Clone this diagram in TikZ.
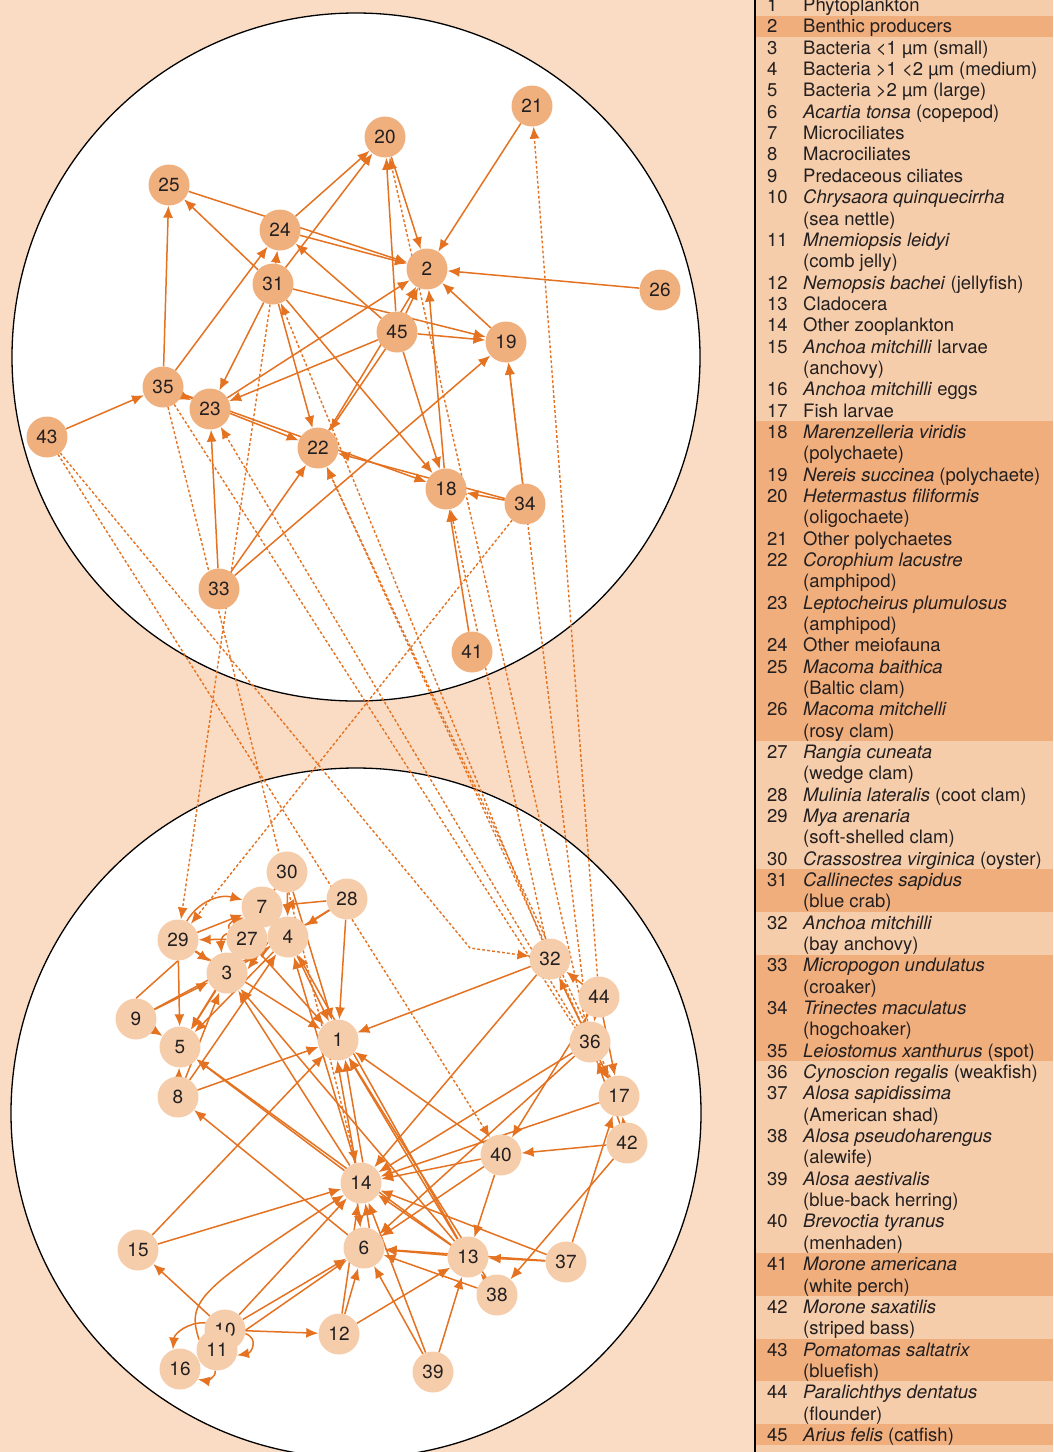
\documentclass[tikz,border=0pt]{standalone}
\usepackage{fontspec}
\setmainfont{TeX Gyre Heros}
\usetikzlibrary{arrows.meta}
\definecolor{paleBg}{RGB}{250,220,196}
\definecolor{legLight}{RGB}{246,205,170}
\definecolor{legDark}{RGB}{240,174,124}
\definecolor{upFill}{RGB}{240,176,126}
\definecolor{lowFill}{RGB}{246,205,170}
\definecolor{linkOrange}{RGB}{228,114,32}
\definecolor{inkGray}{RGB}{35,31,32}

\pgfdeclarelayer{back}
\pgfdeclarelayer{links}
\pgfsetlayers{back,links,main}

\tikzset{
  upnode/.style={circle, fill=upFill, minimum size=41pt, inner sep=0pt,
    text=inkGray, font=\fontsize{19}{19}\selectfont},
  lownode/.style={upnode, fill=lowFill},
  feed/.style={draw=linkOrange, line width=1.5pt, -{Latex[length=12pt,width=10pt]}},
  plainfeed/.style={draw=linkOrange, line width=1.5pt},
  dotfeed/.style={feed, line width=1.4pt, dash pattern=on 2.8pt off 2.2pt},
  legtext/.style={anchor=base west, inner sep=0pt, text=inkGray,
    font=\fontsize{18.5}{18.5}\selectfont},
}

\begin{document}
\begin{tikzpicture}[x=1pt,y=-1pt]
\useasboundingbox (0,0) rectangle (1053,1452);

% background, legend bands, the two habitat circles
\begin{pgfonlayer}{back}
  \fill[paleBg] (0,0) rectangle (755,1452);
  \fill[legLight] (755,0) rectangle (1053,1452);
  \foreach \a/\b in {2/2,21/35,42/43,46/50,60/61,64/65,68/68}
    \fill[legDark] (755,{5+(\a-1)*21.34-10.67}) rectangle (1053,{5+(\b-1)*21.34+10.67});
  \draw[line width=1.6pt] (755,0) -- (755,1452);
  \filldraw[fill=white, draw=black, line width=1.3pt] (356,357) circle[radius=344];
  \filldraw[fill=white, draw=black, line width=1.3pt] (356,1113) circle[radius=345];
\end{pgfonlayer}

% benthic compartment
\foreach \id/\px/\py in {20/385/137, 21/532/106, 25/169/185, 24/280/230, 2/427/269,
    26/660/290, 31/273/284, 45/397/332, 19/506/342, 35/163/387, 23/210/409,
    43/47/437, 22/318/448, 18/446/489, 34/525/504, 33/219/589, 41/472/652}
  \node[upnode] (n\id) at (\px,\py) {\id};

% pelagic compartment
\foreach \id/\px/\py in {30/287/872, 28/347/899, 7/262/907, 27/247/939, 4/288/937,
    3/227/973, 29/178/940, 32/550/959, 44/599/997, 9/136/1019, 5/180/1047,
    1/338/1040, 36/590/1042, 8/178/1097, 17/619/1096, 42/627/1143, 40/501/1155,
    14/361/1183, 15/138/1250, 6/364/1248, 13/468/1257, 37/566/1262, 38/497/1295,
    10/225/1330, 11/217/1350, 12/339/1334, 16/180/1369, 39/433/1372}
  \node[lownode] (n\id) at (\px,\py) {\id};

\coordinate (bend32) at (470,948);

\begin{pgfonlayer}{links}
  % upper circle
  \foreach \a/\b in {24/20, 31/20, 45/20, 20/2, 21/2, 26/2, 19/2, 45/2, 22/2, 18/2,
      25/2, 24/2, 23/2, 31/24, 31/25, 35/25, 35/24, 31/23, 31/22, 31/19, 31/18,
      45/24, 45/23, 45/19, 45/18, 45/22, 35/18, 35/22, 35/23, 34/18, 34/22,
      34/19, 41/18, 33/19, 33/22, 33/23, 43/35}
    \draw[feed] (n\a) -- (n\b);
  % lower circle
  \foreach \a/\b in {28/7, 28/4, 28/3, 28/1, 30/1, 30/4, 29/7, 27/29, 27/1, 29/1,
      29/3, 29/5, 4/1, 4/5, 3/5, 27/5, 9/5, 9/3, 9/4, 8/5, 8/3, 8/4, 8/1, 32/1,
      40/1, 13/1, 38/1, 15/1, 14/3, 13/3, 14/4, 13/4, 14/5, 13/5, 6/8, 32/14,
      36/14, 17/14, 40/14, 15/14, 10/14, 12/14, 39/14, 13/14, 37/14, 38/6, 13/6,
      40/6, 36/6, 40/13, 37/13, 37/6, 42/38, 42/40, 42/17, 42/36, 37/17, 36/17,
      44/17, 44/36, 44/32, 36/32, 44/40, 38/13, 39/13, 39/6, 12/6, 12/13, 10/12,
      10/15, 10/6, 11/6}
    \draw[feed] (n\a) -- (n\b);
  \draw[feed] (n14.105) -- (n1.-92);
  \draw[feed] (n14.85) -- (n1.-70);
  \draw[feed] (n14.-100) -- (n6.100);
  \draw[feed] (n6.75) -- (n14.-78);
  \draw[feed] (n3.30) -- (n4.-150);
  \draw[feed] (n4.-165) -- (n3.10);
  \draw[plainfeed] (n30) -- (n7);
  \draw[plainfeed] (n9.north) -- (n29.south);
  % looping links
  \draw[feed] (n29.65) to[out=60,in=165] (n7.160);
  \draw[feed] (n27.165) to[out=200,in=95] (n3.105);
  \draw[feed] (n27.150) to[out=110,in=200] (n7.210);
  \draw[feed] (n10.160) to[out=175,in=85] (n16.110);
  \draw[feed] (n11.-95) to[out=-80,in=-10] (n16.-30);
  \draw[feed] (n10.-10) to[out=-20,in=10,looseness=1.6] (n11.-15);
  \draw[feed] (n11.150) .. controls (186,1300) and (200,1290) .. (n14.-145);
  % links across the two habitats
  \foreach \a/\b in {36/20, 44/21, 36/19, 31/29, 35/14, 34/29, 43/40, 35/17,
      17/23, 17/22, 36/22, 32/31, 32/18}
    \draw[dotfeed] (n\a) -- (n\b);
  \draw[dotfeed] (n43) -- (bend32) -- (n32);
\end{pgfonlayer}

% legend
\foreach \row/\num/\txt in {1/1/Phytoplankton, 2/2/Benthic producers,
    3/3/Bacteria <1 µm (small), 4/4/Bacteria >1 <2 µm (medium),
    5/5/Bacteria >2 µm (large), 6/6/\textit{Acartia tonsa} (copepod),
    7/7/Microciliates, 8/8/Macrociliates, 9/9/Predaceous ciliates,
    10/10/\textit{Chrysaora quinquecirrha}, 11//(sea nettle),
    12/11/\textit{Mnemiopsis leidyi}, 13//(comb jelly),
    14/12/\textit{Nemopsis bachei} (jellyfish), 15/13/Cladocera,
    16/14/Other zooplankton, 17/15/\textit{Anchoa mitchilli} larvae,
    18//(anchovy), 19/16/\textit{Anchoa mitchilli} eggs, 20/17/Fish larvae,
    21/18/\textit{Marenzelleria viridis}, 22//(polychaete),
    23/19/\textit{Nereis succinea} (polychaete),
    24/20/\textit{Hetermastus filiformis}, 25//(oligochaete),
    26/21/Other polychaetes, 27/22/\textit{Corophium lacustre}, 28//(amphipod),
    29/23/\textit{Leptocheirus plumulosus}, 30//(amphipod),
    31/24/Other meiofauna, 32/25/\textit{Macoma baithica}, 33//(Baltic clam),
    34/26/\textit{Macoma mitchelli}, 35//(rosy clam),
    36/27/\textit{Rangia cuneata}, 37//(wedge clam),
    38/28/\textit{Mulinia lateralis} (coot clam), 39/29/\textit{Mya arenaria},
    40//(soft-shelled clam), 41/30/\textit{Crassostrea virginica} (oyster),
    42/31/\textit{Callinectes sapidus}, 43//(blue crab),
    44/32/\textit{Anchoa mitchilli}, 45//(bay anchovy),
    46/33/\textit{Micropogon undulatus}, 47//(croaker),
    48/34/\textit{Trinectes maculatus}, 49//(hogchoaker),
    50/35/\textit{Leiostomus xanthurus} (spot),
    51/36/\textit{Cynoscion regalis} (weakfish),
    52/37/\textit{Alosa sapidissima}, 53//(American shad),
    54/38/\textit{Alosa pseudoharengus}, 55//(alewife),
    56/39/\textit{Alosa aestivalis}, 57//(blue-back herring),
    58/40/\textit{Brevoctia tyranus}, 59//(menhaden),
    60/41/\textit{Morone americana}, 61//(white perch),
    62/42/\textit{Morone saxatilis}, 63//(striped bass),
    64/43/\textit{Pomatomas saltatrix}, 65//(bluefish),
    66/44/\textit{Paralichthys dentatus}, 67//(flounder),
    68/45/\textit{Arius felis} (catfish)}
{
  \node[legtext] (num\row) at (767,{11.6+(\row-1)*21.34}) {\num};
  \node[legtext] (leg\row) at (803,{11.6+(\row-1)*21.34}) {\txt};
}
\end{tikzpicture}
\end{document}
